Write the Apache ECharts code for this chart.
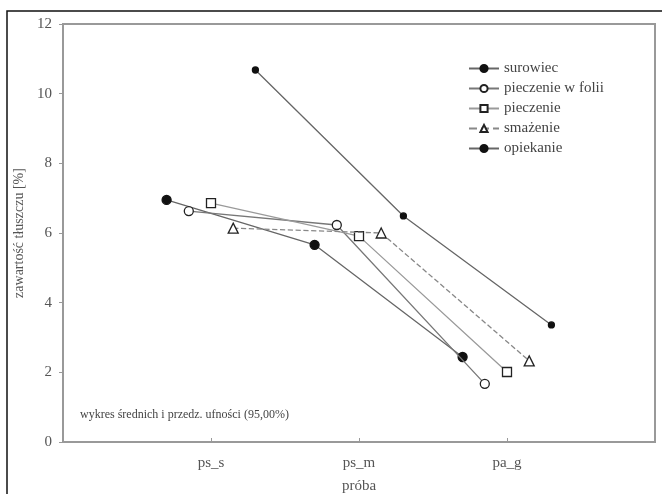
<!DOCTYPE html>
<html>
<head>
<meta charset="utf-8">
<script src="https://cdn.jsdelivr.net/npm/echarts@6/dist/echarts.min.js"></script>
<style>
  html, body { margin: 0; padding: 0; background: #fff; }
  #chart { width: 662px; height: 494px; }
</style>
</head>
<body>
<div id="chart"></div>
<script>
// Sample types on the horizontal axis
const categories = ['ps_s', 'ps_m', 'pa_g'];

// Mean fat content [%] per treatment, one value per sample type
const seriesNames = ['surowiec', 'pieczenie w folii', 'pieczenie', 'smażenie', 'opiekanie'];
const surowiec        = [6.95, 5.66, 2.44];
const pieczenieWFolii = [6.63, 6.23, 1.67];
const pieczenie       = [6.86, 5.91, 2.01];
const smazenie        = [6.14, 6.00, 2.33];
const opiekanie       = [10.68, 6.49, 3.36];

// Y axis ticks
const yTicks = [0, 2, 4, 6, 8, 10, 12];

const seriesValues = [surowiec, pieczenieWFolii, pieczenie, smazenie, opiekanie];

// Each treatment is shifted sideways so the markers do not overlap
const SHIFT = 0.15;

const serif = '"Liberation Serif", "DejaVu Serif", serif';

const styles = [
  { symbol: 'circle', size: 9, fill: '#111', border: '#111', line: '#666', type: 'solid' },
  { symbol: 'circle', size: 9, fill: '#fff', border: '#222', line: '#777', type: 'solid' },
  { symbol: 'rect', size: 9, fill: '#fff', border: '#222', line: '#9a9a9a', type: 'solid' },
  { symbol: 'triangle', size: 10, fill: '#fff', border: '#222', line: '#888', type: 'dashed' },
  { symbol: 'circle', size: 6, fill: '#111', border: '#111', line: '#666', type: 'solid' }
];

const series = seriesNames.map((name, si) => {
  const st = styles[si];
  return {
    name: name,
    type: 'line',
    symbol: st.symbol,
    symbolSize: st.size,
    showAllSymbol: true,
    data: seriesValues[si].map((v, ci) => [ci + 1 + (si - 2) * SHIFT, v]),
    lineStyle: { color: st.line, width: 1.3, type: st.type },
    itemStyle: { color: st.fill, borderColor: st.border, borderWidth: 1.3 },
    z: 3 + si
  };
});

const chart = echarts.init(document.getElementById('chart'), null, { renderer: 'canvas' });
chart.setOption({
  animation: false,
  backgroundColor: '#fff',
  grid: {
    left: 63, top: 24, right: 7, bottom: 52,
    outerBoundsMode: 'none',
    containLabel: false,
    show: true, borderColor: '#999', borderWidth: 2, backgroundColor: 'transparent'
  },
  legend: {
    orient: 'vertical',
    left: 466, top: 59,
    padding: 2,
    itemWidth: 30, itemHeight: 9, itemGap: 5,
    textStyle: { fontFamily: serif, fontSize: 15, color: '#444' },
    data: seriesNames
  },
  xAxis: {
    type: 'value',
    min: 0, max: 4, interval: 1,
    name: 'próba',
    nameLocation: 'middle',
    nameGap: 37,
    nameTextStyle: { fontFamily: serif, fontSize: 15, color: '#555' },
    axisLine: { show: true, lineStyle: { color: '#999', width: 2 } },
    axisTick: { show: true, inside: true, length: 4, lineStyle: { color: '#999' } },
    splitLine: { show: false },
    axisLabel: {
      fontFamily: serif, fontSize: 15, color: '#555', margin: 14,
      formatter: v => (v >= 1 && v <= categories.length ? categories[v - 1] : '')
    }
  },
  yAxis: {
    type: 'value',
    min: yTicks[0], max: yTicks[yTicks.length - 1], interval: 2,
    name: 'zawartość tłuszczu [%]',
    nameLocation: 'middle',
    nameGap: 36,
    nameTextStyle: { fontFamily: serif, fontSize: 14, color: '#555' },
    axisLine: { show: true, lineStyle: { color: '#999', width: 2 } },
    axisTick: { show: true, inside: false, length: 4, lineStyle: { color: '#999' } },
    splitLine: { show: false },
    axisLabel: { fontFamily: serif, fontSize: 15, color: '#555', margin: 11 }
  },
  graphic: [
    {
      type: 'rect',
      shape: { x: 7, y: 11, width: 720, height: 560 },
      style: { fill: 'none', stroke: '#111', lineWidth: 1.5 },
      silent: true, z: 100
    },
    {
      type: 'text',
      left: 80, top: 409,
      style: {
        text: 'wykres średnich i przedz. ufności (95,00%)',
        font: '12px ' + serif,
        fill: '#444'
      }
    }
  ],
  series: series
});
</script>
</body>
</html>
